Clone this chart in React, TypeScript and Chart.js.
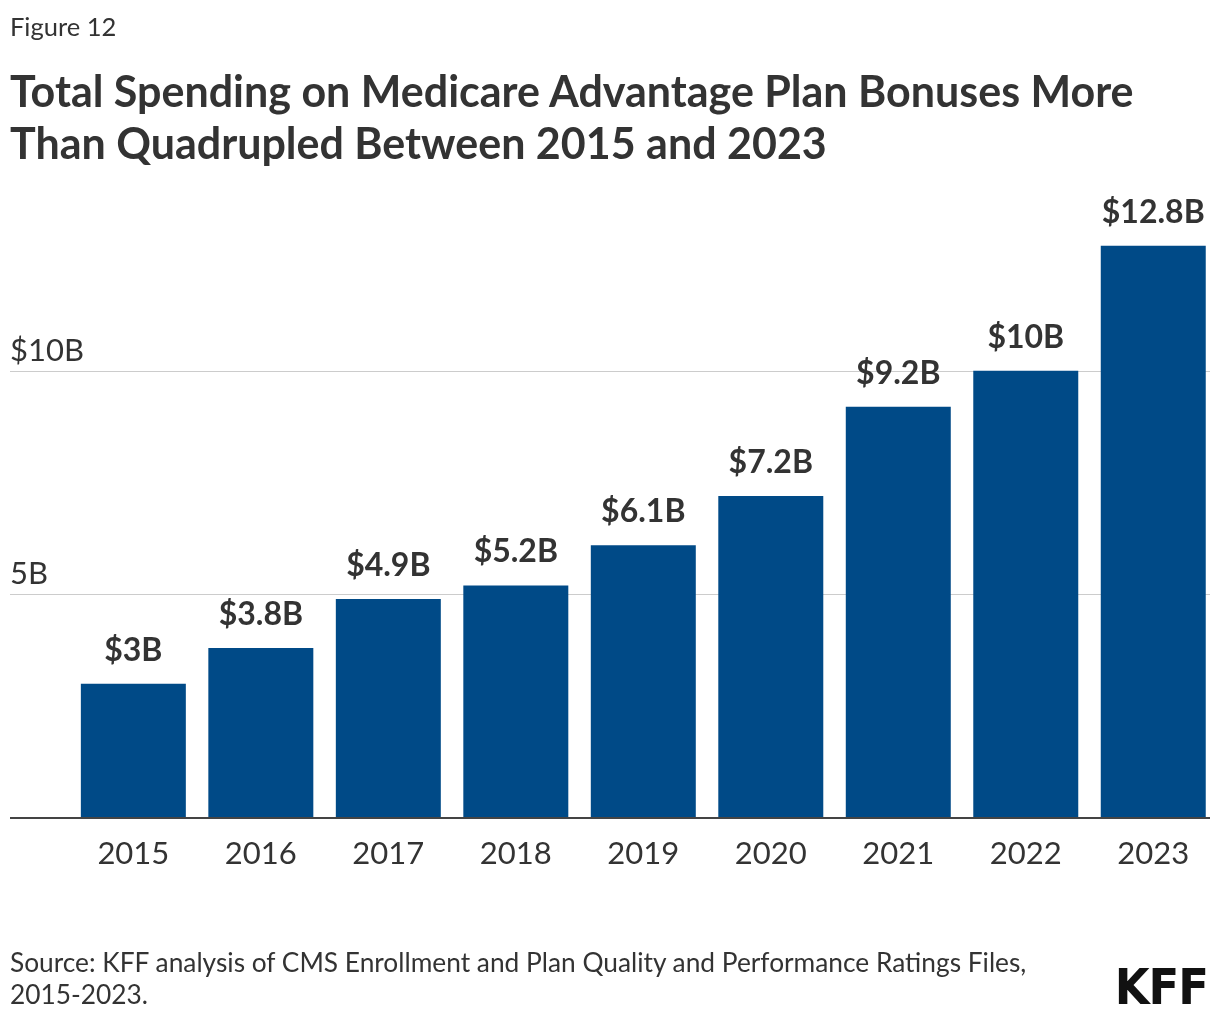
import React, { useEffect, useRef } from "react";
import { Chart, registerables } from "chart.js";

Chart.register(...registerables);

const years = ["2015", "2016", "2017", "2018", "2019", "2020", "2021", "2022", "2023"];
const bonusBillions = [3.0, 3.8, 4.9, 5.2, 6.1, 7.2, 9.2, 10.0, 12.8];
const valueLabels = ["$3B", "$3.8B", "$4.9B", "$5.2B", "$6.1B", "$7.2B", "$9.2B", "$10B", "$12.8B"];
const yTickValues = [5, 10];
const yTickLabels = ["5B", "$10B"];

const FONT = "Lato, 'Source Sans Pro', 'Noto Sans', sans-serif";
const TEXT = "#333333";

export default function App() {
  const canvasRef = useRef<HTMLCanvasElement | null>(null);

  useEffect(() => {
    document.body.style.margin = "0";
    const canvas = canvasRef.current;
    if (!canvas) return;

    const gridPlugin = {
      id: "kffGrid",
      beforeDatasetsDraw(chart: any) {
        const ctx = chart.ctx;
        const y = chart.scales.y;
        ctx.save();
        yTickValues.forEach((v, i) => {
          const py = Math.round(y.getPixelForValue(v)) + 0.5;
          ctx.strokeStyle = "#cccccc";
          ctx.lineWidth = 1;
          ctx.beginPath();
          ctx.moveTo(10, py);
          ctx.lineTo(1210, py);
          ctx.stroke();
          ctx.fillStyle = TEXT;
          ctx.font = `400 31px ${FONT}`;
          ctx.textAlign = "left";
          ctx.textBaseline = "alphabetic";
          ctx.fillText(yTickLabels[i], 10, py - 11);
        });
        ctx.restore();
      },
      afterDatasetsDraw(chart: any) {
        const ctx = chart.ctx;
        const y = chart.scales.y;
        const meta = chart.getDatasetMeta(0);
        ctx.save();
        const by = y.getPixelForValue(0);
        ctx.strokeStyle = "#444444";
        ctx.lineWidth = 2;
        ctx.beginPath();
        ctx.moveTo(10, by);
        ctx.lineTo(1210, by);
        ctx.stroke();
        ctx.fillStyle = TEXT;
        ctx.font = `700 32px ${FONT}`;
        ctx.textAlign = "center";
        ctx.textBaseline = "alphabetic";
        meta.data.forEach((bar: any, i: number) => {
          ctx.fillText(valueLabels[i], bar.x, bar.y - 23);
        });
        ctx.restore();
      },
    };

    const chart = new Chart(canvas, {
      type: "bar",
      data: {
        labels: years,
        datasets: [
          {
            data: bonusBillions,
            backgroundColor: "#004a87",
            borderWidth: 0,
            categoryPercentage: 1,
            barPercentage: 0.8235,
          },
        ],
      },
      options: {
        animation: false,
        responsive: false,
        maintainAspectRatio: false,
        layout: { padding: { left: 10, right: 3, top: 192, bottom: 104 } },
        plugins: {
          legend: { display: false },
          tooltip: { enabled: false },
          title: { display: false },
        },
        scales: {
          x: {
            grid: { display: false },
            border: { display: false },
            ticks: {
              color: TEXT,
              font: { family: FONT, size: 31, weight: "400" },
              padding: 9,
              maxRotation: 0,
            },
            afterFit(scale: any) {
              scale.height = 100;
            },
          },
          y: {
            min: 0,
            max: 14,
            grid: { display: false },
            border: { display: false },
            ticks: { display: false, stepSize: 5 },
            afterFit(scale: any) {
              scale.width = 59.6;
            },
          },
        },
      },
      plugins: [gridPlugin],
    });

    return () => chart.destroy();
  }, []);

  return (
    <div
      style={{
        position: "relative",
        width: 1220,
        height: 1022,
        background: "#ffffff",
        fontFamily: FONT,
        color: TEXT,
        overflow: "hidden",
      }}
    >
      <canvas
        ref={canvasRef}
        width={1220}
        height={1022}
        style={{ position: "absolute", left: 0, top: 0, width: 1220, height: 1022 }}
      />
      <div style={{ position: "absolute", left: 10, top: 10, fontSize: 25.5, lineHeight: "32px" }}>
        Figure 12
      </div>
      <div
        style={{
          position: "absolute",
          left: 10,
          top: 65,
          fontSize: 43,
          fontWeight: 700,
          lineHeight: "52px",
          whiteSpace: "nowrap",
        }}
      >
        Total Spending on Medicare Advantage Plan Bonuses More
        <br />
        Than Quadrupled Between 2015 and 2023
      </div>
      <div
        style={{
          position: "absolute",
          left: 10,
          top: 946,
          fontSize: 26.3,
          lineHeight: "32px",
          whiteSpace: "nowrap",
        }}
      >
        Source: KFF analysis of CMS Enrollment and Plan Quality and Performance Ratings Files,
        <br />
        2015-2023.
      </div>
      <div
        style={{
          position: "absolute",
          right: 12,
          top: 962,
          fontSize: 50,
          fontWeight: 700,
          lineHeight: "50px",
          color: "#111111",
          fontFamily: "'Liberation Sans Narrow', 'DejaVu Sans Condensed', sans-serif",
          letterSpacing: -1,
        }}
      >
        KFF
      </div>
    </div>
  );
}
